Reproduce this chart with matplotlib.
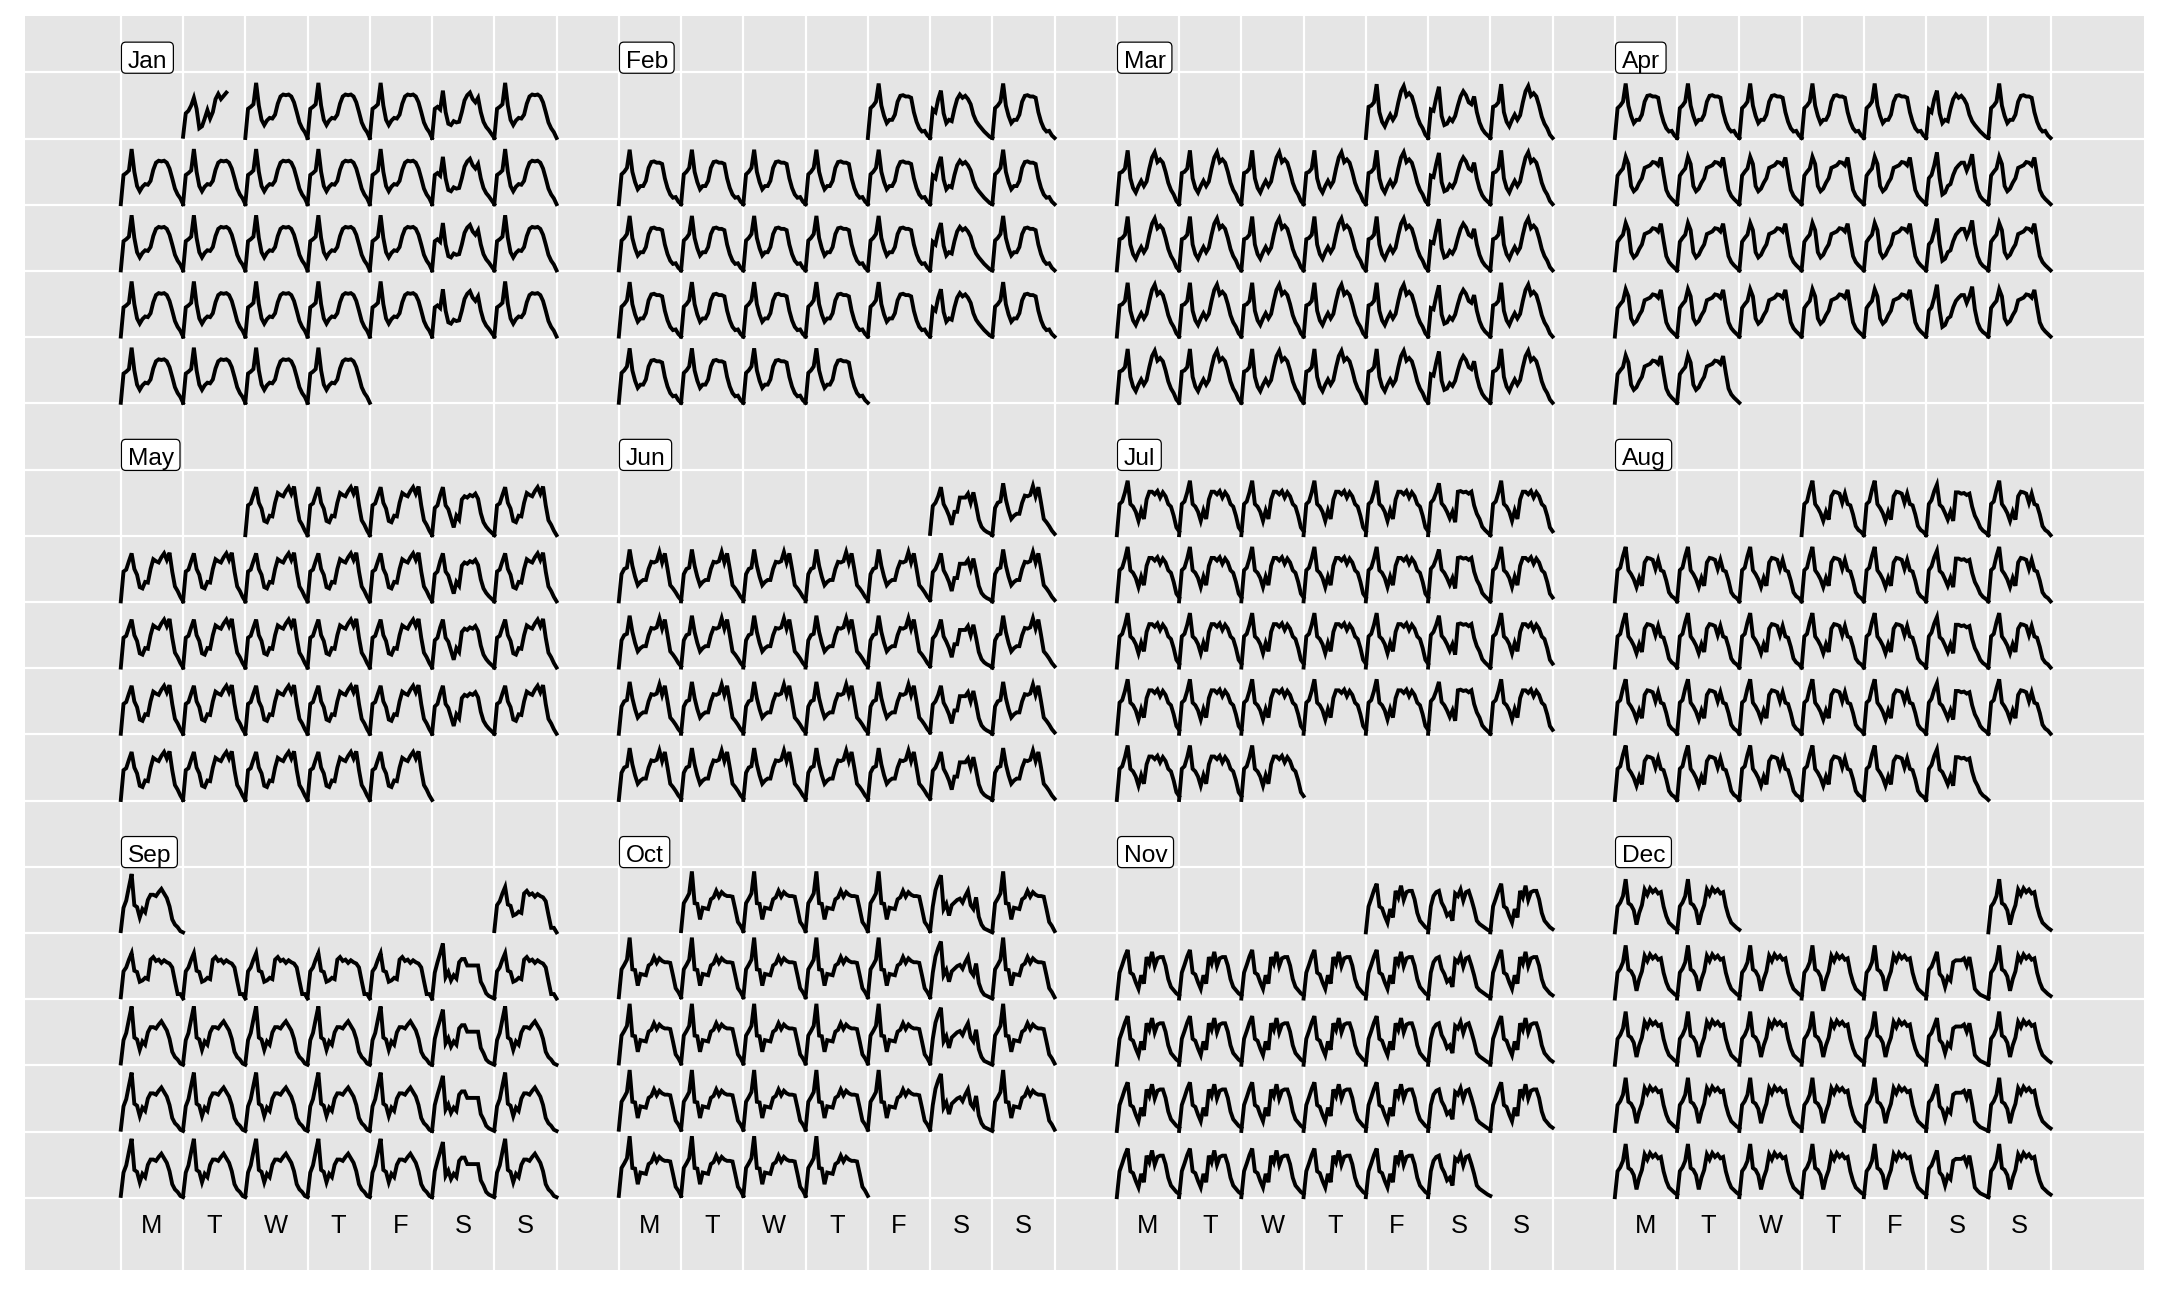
import calendar
from datetime import date

import numpy as np
import matplotlib
matplotlib.use("Agg")
import matplotlib.pyplot as plt
from matplotlib.patches import FancyBboxPatch

plt.rcParams['font.family'] = ['Liberation Sans', 'DejaVu Sans']

year = 2019
month_labels = ['Jan', 'Feb', 'Mar', 'Apr', 'May', 'Jun',
                'Jul', 'Aug', 'Sep', 'Oct', 'Nov', 'Dec']
weekday_labels = ['M', 'T', 'W', 'T', 'F', 'S', 'S']

# hourly counts as a share of the yearly maximum
wd_jan = [0.00, 0.45, 0.48, 0.52, 0.85, 0.50, 0.28, 0.20, 0.27, 0.31, 0.30, 0.36,
          0.53, 0.64, 0.67, 0.66, 0.67, 0.64, 0.55, 0.40, 0.24, 0.15, 0.09, 0.00]
wd_feb = [0.00, 0.46, 0.50, 0.56, 0.84, 0.50, 0.34, 0.23, 0.28, 0.28, 0.36, 0.56,
          0.65, 0.66, 0.64, 0.64, 0.62, 0.40, 0.25, 0.15, 0.10, 0.11, 0.04, 0.00]
wd_mar = [0.00, 0.48, 0.50, 0.55, 0.83, 0.40, 0.25, 0.18, 0.28, 0.36, 0.28, 0.35,
          0.55, 0.72, 0.80, 0.65, 0.69, 0.64, 0.50, 0.33, 0.22, 0.15, 0.05, 0.00]
wd_apr = [0.00, 0.44, 0.50, 0.55, 0.73, 0.62, 0.28, 0.20, 0.24, 0.33, 0.40, 0.56,
          0.58, 0.60, 0.65, 0.64, 0.60, 0.72, 0.46, 0.22, 0.13, 0.08, 0.04, 0.00]
wd_may = [0.00, 0.46, 0.49, 0.62, 0.74, 0.50, 0.41, 0.22, 0.20, 0.30, 0.29, 0.50,
          0.65, 0.62, 0.60, 0.68, 0.74, 0.64, 0.75, 0.46, 0.23, 0.16, 0.07, 0.00]
wd_jun = [0.00, 0.42, 0.50, 0.52, 0.80, 0.55, 0.38, 0.25, 0.30, 0.33, 0.33, 0.50,
          0.61, 0.60, 0.62, 0.76, 0.60, 0.74, 0.50, 0.25, 0.20, 0.14, 0.07, 0.02]
wd_jul = [0.00, 0.48, 0.52, 0.66, 0.84, 0.48, 0.44, 0.36, 0.22, 0.38, 0.25, 0.55,
          0.67, 0.67, 0.63, 0.68, 0.58, 0.66, 0.60, 0.48, 0.44, 0.30, 0.12, 0.06]
wd_aug = [0.00, 0.48, 0.52, 0.70, 0.84, 0.48, 0.42, 0.34, 0.22, 0.36, 0.24, 0.60,
          0.67, 0.66, 0.64, 0.50, 0.64, 0.48, 0.46, 0.32, 0.14, 0.08, 0.05, 0.00]
wd_sep = [0.02, 0.38, 0.49, 0.70, 0.90, 0.42, 0.39, 0.23, 0.36, 0.31, 0.50, 0.58,
          0.58, 0.56, 0.62, 0.67, 0.60, 0.53, 0.40, 0.20, 0.12, 0.08, 0.02, 0.00]
wd_oct = [0.02, 0.45, 0.52, 0.60, 0.94, 0.45, 0.44, 0.20, 0.38, 0.37, 0.36, 0.51,
          0.54, 0.64, 0.55, 0.62, 0.58, 0.56, 0.56, 0.55, 0.36, 0.16, 0.10, 0.02]
wd_nov = [0.00, 0.40, 0.52, 0.65, 0.75, 0.40, 0.37, 0.25, 0.15, 0.36, 0.23, 0.64,
          0.54, 0.72, 0.50, 0.62, 0.64, 0.64, 0.51, 0.30, 0.18, 0.13, 0.08, 0.05]
wd_dec = [0.00, 0.40, 0.46, 0.56, 0.82, 0.45, 0.42, 0.34, 0.12, 0.30, 0.42, 0.66,
          0.58, 0.68, 0.62, 0.66, 0.60, 0.62, 0.40, 0.25, 0.15, 0.11, 0.07, 0.04]

sat_jan = [0.00, 0.45, 0.48, 0.44, 0.73, 0.40, 0.22, 0.20, 0.26, 0.24, 0.25, 0.40,
           0.58, 0.66, 0.70, 0.60, 0.55, 0.62, 0.40, 0.25, 0.17, 0.12, 0.06, 0.00]
sat_feb = [0.00, 0.44, 0.40, 0.60, 0.73, 0.38, 0.23, 0.28, 0.26, 0.45, 0.60, 0.67,
           0.62, 0.65, 0.60, 0.52, 0.36, 0.26, 0.20, 0.15, 0.10, 0.06, 0.02, 0.00]
sat_mar = [0.00, 0.44, 0.42, 0.62, 0.79, 0.34, 0.20, 0.22, 0.30, 0.26, 0.34, 0.50,
           0.64, 0.72, 0.66, 0.55, 0.52, 0.64, 0.40, 0.24, 0.14, 0.08, 0.04, 0.00]
sat_apr = [0.00, 0.40, 0.45, 0.60, 0.80, 0.40, 0.15, 0.18, 0.28, 0.31, 0.45, 0.55,
           0.60, 0.64, 0.64, 0.52, 0.62, 0.77, 0.42, 0.22, 0.12, 0.07, 0.04, 0.00]
sat_may = [0.00, 0.42, 0.46, 0.62, 0.74, 0.46, 0.40, 0.26, 0.12, 0.30, 0.24, 0.55,
           0.60, 0.58, 0.62, 0.60, 0.64, 0.56, 0.34, 0.20, 0.13, 0.08, 0.04, 0.00]
sat_jun = [0.02, 0.45, 0.50, 0.60, 0.74, 0.48, 0.40, 0.30, 0.16, 0.36, 0.36, 0.58,
           0.58, 0.58, 0.64, 0.50, 0.66, 0.46, 0.24, 0.13, 0.08, 0.05, 0.03, 0.00]
sat_jul = [0.00, 0.50, 0.55, 0.66, 0.80, 0.49, 0.44, 0.36, 0.26, 0.36, 0.20, 0.67,
           0.68, 0.66, 0.67, 0.64, 0.67, 0.46, 0.33, 0.25, 0.13, 0.08, 0.04, 0.00]
sat_aug = [0.00, 0.48, 0.54, 0.68, 0.78, 0.47, 0.43, 0.34, 0.24, 0.36, 0.22, 0.66,
           0.66, 0.64, 0.65, 0.62, 0.64, 0.44, 0.30, 0.22, 0.12, 0.07, 0.04, 0.00]
sat_sep = [0.00, 0.40, 0.56, 0.70, 0.85, 0.33, 0.41, 0.28, 0.36, 0.31, 0.56, 0.61,
           0.61, 0.51, 0.51, 0.51, 0.51, 0.51, 0.26, 0.18, 0.08, 0.04, 0.02, 0.00]
sat_oct = [0.02, 0.40, 0.65, 0.78, 0.88, 0.36, 0.44, 0.26, 0.42, 0.46, 0.50, 0.52,
           0.46, 0.56, 0.64, 0.42, 0.36, 0.54, 0.24, 0.12, 0.06, 0.04, 0.02, 0.00]
sat_nov = [0.00, 0.40, 0.56, 0.62, 0.64, 0.46, 0.38, 0.26, 0.30, 0.18, 0.60, 0.56,
           0.66, 0.49, 0.62, 0.64, 0.51, 0.36, 0.18, 0.13, 0.10, 0.07, 0.04, 0.02]
sat_dec = [0.00, 0.44, 0.49, 0.60, 0.72, 0.38, 0.33, 0.18, 0.33, 0.28, 0.56, 0.59,
           0.59, 0.59, 0.62, 0.51, 0.64, 0.41, 0.15, 0.10, 0.06, 0.04, 0.02, 0.00]

# first week of September has a lower morning peak
wd_sep_wk1 = [0.02, 0.42, 0.48, 0.60, 0.70, 0.43, 0.41, 0.26, 0.28, 0.32, 0.30, 0.60,
              0.64, 0.58, 0.60, 0.55, 0.59, 0.56, 0.54, 0.48, 0.27, 0.07, 0.07, 0.00]
# New Year's Day, counts only up to 4pm
jan_first = [0.02, 0.38, 0.42, 0.50, 0.62, 0.45, 0.15, 0.18, 0.30, 0.43, 0.30, 0.40,
             0.60, 0.68, 0.60, 0.65, 0.70]

weekday_profiles = [wd_jan, wd_feb, wd_mar, wd_apr, wd_may, wd_jun,
                    wd_jul, wd_aug, wd_sep, wd_oct, wd_nov, wd_dec]
saturday_profiles = [sat_jan, sat_feb, sat_mar, sat_apr, sat_may, sat_jun,
                     sat_jul, sat_aug, sat_sep, sat_oct, sat_nov, sat_dec]


def day_values(d):
    if d == date(year, 1, 1):
        return jan_first
    if d.month == 4 and d.day <= 7:
        # first week of April still looks like the summer shape
        return sat_feb if d.weekday() == 5 else wd_feb
    if d.month == 9 and d.day <= 8 and d.weekday() != 5:
        return wd_sep_wk1
    if d.weekday() == 5:
        return saturday_profiles[d.month - 1]
    return weekday_profiles[d.month - 1]


fig = plt.figure(figsize=(13.5, 8.1), dpi=160)
ax = fig.add_axes([24.5 / 2160, 1 - 1270 / 1296, (2144 - 24.5) / 2160, (1270 - 16) / 1296])
ax.set_facecolor('#E5E5E5')
ax.set_xlim(-1.547, 32.50)
ax.set_ylim(-19.09, -0.147)
for sp in ax.spines.values():
    sp.set_visible(False)
ax.set_xticks([])
ax.set_yticks([])

# grid at every day cell
for b in range(4):
    for j in range(8):
        ax.axvline(b * 8 + j, color='white', lw=1.0, zorder=0.5)
for k in range(1, 19):
    ax.axhline(-k, color='white', lw=1.0, zorder=0.5)

renderer = fig.canvas.get_renderer()
inv = ax.transData.inverted()

for m in range(12):
    bx = (m % 4) * 8
    by = (m // 4) * 6
    first_dow, ndays = calendar.monthrange(year, m + 1)
    for day in range(1, ndays + 1):
        d = date(year, m + 1, day)
        week = (day + first_dow - 1) // 7
        if week >= 5:
            week -= 5
        k = by + 1 + week
        vals = np.array(day_values(d))
        hrs = np.arange(len(vals))
        xs = bx + d.weekday() + hrs / 23
        ys = -(k + 1) + 0.01 + vals * 0.98
        ax.plot(xs, ys, color='black', lw=1.75, solid_joinstyle='miter', zorder=3)

    # month label sits on the top edge of the month's first week
    top = -(by + 1)
    pad = 0.1
    t = ax.text(bx + 0.01 + pad, top + 0.07, month_labels[m], fontsize=11,
                ha='left', va='baseline', zorder=5)
    bb = t.get_window_extent(renderer).transformed(inv)
    box = FancyBboxPatch((bx + 0.01, top - 0.012), bb.width + 2 * pad, 0.47,
                         boxstyle='round,pad=0,rounding_size=0.07',
                         fc='white', ec='black', lw=0.55, zorder=4)
    ax.add_patch(box)

# weekday labels under the bottom row of months
for b in range(4):
    for j, lab in enumerate(weekday_labels):
        ax.text(b * 8 + j + 0.5, -18.42, lab, fontsize=11.5,
                ha='center', va='center', color='black')

fig.savefig('out.png', dpi=160)
